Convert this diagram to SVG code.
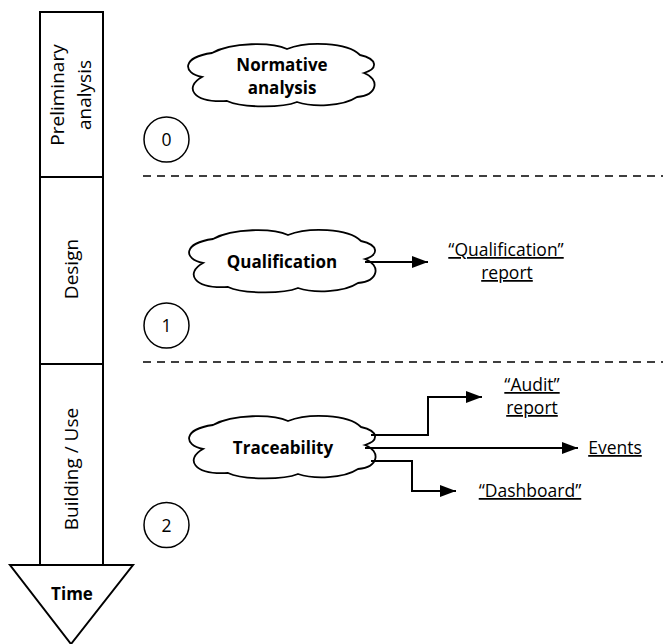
<svg xmlns="http://www.w3.org/2000/svg" width="663" height="644" viewBox="0 0 663 644">
<defs>
<style>
.ln{fill:none;stroke:#000;stroke-width:2}
.bx{fill:#fff;stroke:#000;stroke-width:2}
.cl{fill:#fff;stroke:#000;stroke-width:1.8}
.ci{fill:#fff;stroke:#000;stroke-width:1.5}
.dash{fill:none;stroke:#000;stroke-width:1.5;stroke-dasharray:8,6}
.t{font-family:"Open Sans","Liberation Sans",sans-serif;font-size:17.5px;fill:#000;text-anchor:middle}
.b{font-weight:bold;font-size:17px}
.u{text-decoration:underline}
.vt{font-family:"Open Sans","Liberation Sans",sans-serif;font-size:19px;fill:#000;text-anchor:middle}
</style>
<marker id="ah" viewBox="0 0 16 12" refX="16" refY="6" markerWidth="16" markerHeight="12" markerUnits="userSpaceOnUse" orient="auto">
<path d="M0,0 L16,6 L0,12 Z" fill="#000"/>
</marker>
<path id="cloud" d="M -80,2 C -100,-2 -100,-18 -70,-22 C -50,-33 -10,-33 5,-26 C 25,-34 65,-33 78,-20 C 96,-16 96,-6 82,-2 C 98,4 96,20 75,22 C 60,32 30,32 15,27 C 0,33 -40,33 -55,26 C -90,28 -98,12 -80,2 Z"/>
</defs>

<g id="timeline">
<rect class="bx" x="40" y="12" width="63" height="553"/>
<line class="ln" x1="40" y1="177" x2="103" y2="177"/>
<line class="ln" x1="40" y1="364" x2="103" y2="364"/>
<text class="vt" transform="translate(64,95) rotate(-90)">Preliminary</text>
<text class="vt" transform="translate(91,95) rotate(-90)">analysis</text>
<text class="vt" transform="translate(78,269) rotate(-90)">Design</text>
<text class="vt" transform="translate(78,469) rotate(-90)">Building / Use</text>
</g>

<g id="time">
<path class="bx" d="M10,565 L133,565 L71,644 Z" stroke-width="1.5"/>
<text class="t b" x="72" y="600">Time</text>
</g>

<g id="separators">
<line class="dash" x1="143" y1="176" x2="663" y2="176"/>
<line class="dash" x1="143" y1="362" x2="663" y2="362"/>
</g>

<g id="step0"><circle class="ci" cx="166.5" cy="139.5" r="22.5"/><text class="t" x="166.5" y="146">0</text></g>
<g id="step1"><circle class="ci" cx="166.5" cy="325.5" r="22.5"/><text class="t" x="166.5" y="332">1</text></g>
<g id="step2"><circle class="ci" cx="166.5" cy="525" r="22.5"/><text class="t" x="166.5" y="531.5">2</text></g>

<g id="normative">
<use href="#cloud" class="cl" transform="translate(282,75)"/>
<text class="t b" x="282" y="71">Normative</text>
<text class="t b" x="282" y="94">analysis</text>
</g>

<g id="qualification">
<use href="#cloud" class="cl" transform="translate(283,261)"/>
<text class="t b" x="282" y="268">Qualification</text>
</g>

<g id="traceability">
<use href="#cloud" class="cl" transform="translate(283,447)"/>
<text class="t b" x="283" y="454">Traceability</text>
</g>

<g id="connectors">
<path class="ln" d="M365,262 L428,262" marker-end="url(#ah)"/>
<path class="ln" d="M371,435 L428,435 L428,397 L482,397" marker-end="url(#ah)"/>
<path class="ln" d="M365,448 L578,448" marker-end="url(#ah)"/>
<path class="ln" d="M371,461 L412,461 L412,491 L456,491" marker-end="url(#ah)"/>
</g>

<g id="qual-report"><text class="t u" x="506" y="256">“Qualification”</text><text class="t u" x="507" y="279">report</text></g>
<g id="audit-report"><text class="t u" x="532" y="391">“Audit”</text><text class="t u" x="532" y="414">report</text></g>
<g id="events"><text class="t u" x="615" y="454">Events</text></g>
<g id="dashboard"><text class="t u" x="530" y="497">“Dashboard”</text></g>
</svg>
